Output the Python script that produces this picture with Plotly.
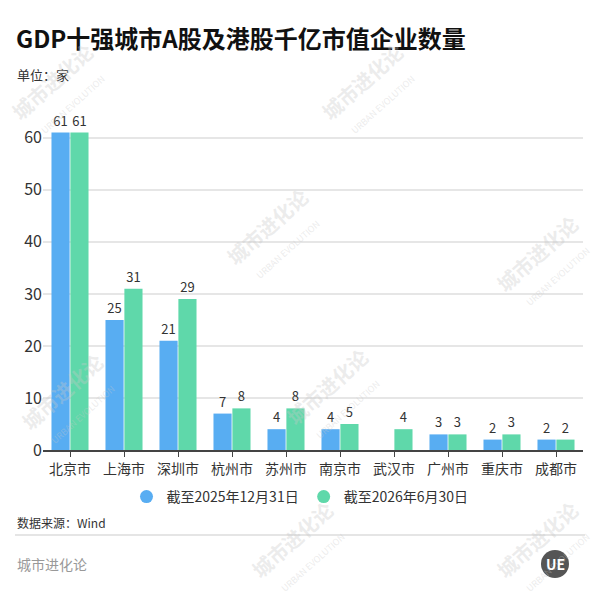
import plotly.graph_objects as go

cities = ["北京市", "上海市", "深圳市", "杭州市", "苏州市", "南京市", "武汉市", "广州市", "重庆市", "成都市"]
s2025 = [61, 25, 21, 7, 4, 4, None, 3, 2, 2]
s2026 = [61, 31, 29, 8, 8, 5, 4, 3, 3, 2]
name2025 = "截至2025年12月31日"
name2026 = "截至2026年6月30日"
yticks = [0, 10, 20, 30, 40, 50, 60]

FONT = "Noto Sans CJK SC"
BLUE = "#58adf2"
GREEN = "#5fd8aa"

L, T, W, H = 43, 117, 540, 333

def px(x):
    return (x - L) / W

def py(y):
    return 1 - (y - T) / H

fig = go.Figure()
xs = list(range(len(cities)))
fig.add_trace(go.Bar(
    x=xs, y=s2025, name=name2025, showlegend=False,
    marker=dict(color=BLUE, line=dict(width=0)),
    text=[str(v) if v is not None else "" for v in s2025],
    textposition="outside", cliponaxis=False,
    textfont=dict(size=13, color="#333333", family=FONT),
))
fig.add_trace(go.Bar(
    x=xs, y=s2026, name=name2026, showlegend=False,
    marker=dict(color=GREEN, line=dict(width=0)),
    text=[str(v) for v in s2026],
    textposition="outside", cliponaxis=False,
    textfont=dict(size=13, color="#333333", family=FONT),
))
# legend entries with circle markers
for nm, col in [(name2025, BLUE), (name2026, GREEN)]:
    fig.add_trace(go.Scatter(x=[None], y=[None], mode="markers", name=nm,
                             marker=dict(symbol="circle", size=13, color=col)))

fig.update_layout(
    width=600, height=600,
    margin=dict(l=L, r=600 - L - W, t=T, b=600 - T - H),
    paper_bgcolor="white", plot_bgcolor="white",
    barmode="group", bargap=0.3, bargroupgap=0.04,
    font=dict(family=FONT, color="#333333"),
    showlegend=True,
    legend=dict(orientation="h", x=px(300), xanchor="center", y=py(481), yanchor="top",
                font=dict(size=14, color="#333333", family=FONT),
                itemwidth=30, traceorder="normal", tracegroupgap=10),
    uniformtext=dict(minsize=13, mode="show"),
)
fig.update_xaxes(
    tickmode="array", tickvals=xs, ticktext=cities,
    range=[-0.5, 9.5],
    showline=True, linecolor="#444444", linewidth=1.5,
    ticks="outside", ticklen=5, tickcolor="#444444",
    tickfont=dict(size=14, color="#333333", family=FONT),
    showgrid=False, fixedrange=True,
)
fig.update_yaxes(
    range=[0, 64], tickvals=yticks,
    showgrid=True, gridcolor="#e6e6e6", gridwidth=1.5,
    tickfont=dict(size=16, color="#333333", family=FONT),
    ticks="", zeroline=False, showline=False,
)

anns = [
    dict(text="<b>GDP十强城市A股及港股千亿市值企业数量</b>", x=14, y=37, font=dict(size=24, color="#111111")),
    dict(text="单位：家", x=15, y=75, font=dict(size=13, color="#333333")),
    dict(text="数据来源：Wind", x=15, y=522, font=dict(size=12, color="#333333")),
    dict(text="城市进化论", x=15, y=564, font=dict(size=14, color="#999999")),
]
for a in anns:
    fig.add_annotation(xref="paper", yref="paper", xanchor="left", yanchor="middle",
                       x=px(a["x"]), y=py(a["y"]),
                       text=a["text"], showarrow=False, font=dict(family=FONT, **a["font"]))

# watermarks
wm = [(60, 90), (370, 90), (275, 235), (545, 262), (70, 400), (335, 395), (300, 548), (545, 548)]
for (wx, wy) in wm:
    fig.add_annotation(xref="paper", yref="paper", xanchor="center", yanchor="middle",
                       x=px(wx), y=py(wy),
                       text="<b>城市进化论</b><br><span style='font-size:9px'>URBAN EVOLUTION</span>",
                       textangle=-42, showarrow=False,
                       font=dict(family=FONT, size=20, color="rgba(200,200,200,0.35)"))

# separator line
fig.add_shape(type="line", xref="paper", yref="paper",
              x0=px(15), x1=px(585), y0=py(535), y1=py(535),
              line=dict(color="#dddddd", width=1.5))
# logo
cx, cy, r = 555, 564, 14
fig.add_shape(type="circle", xref="paper", yref="paper",
              x0=px(cx - r), x1=px(cx + r), y0=py(cy + r), y1=py(cy - r),
              fillcolor="#555555", line=dict(width=0))
fig.add_annotation(xref="paper", yref="paper", x=px(cx), y=py(cy),
                   text="<b>UE</b>", showarrow=False, xanchor="center", yanchor="middle",
                   font=dict(family=FONT, size=14, color="white"))

fig.write_html("out.html")
